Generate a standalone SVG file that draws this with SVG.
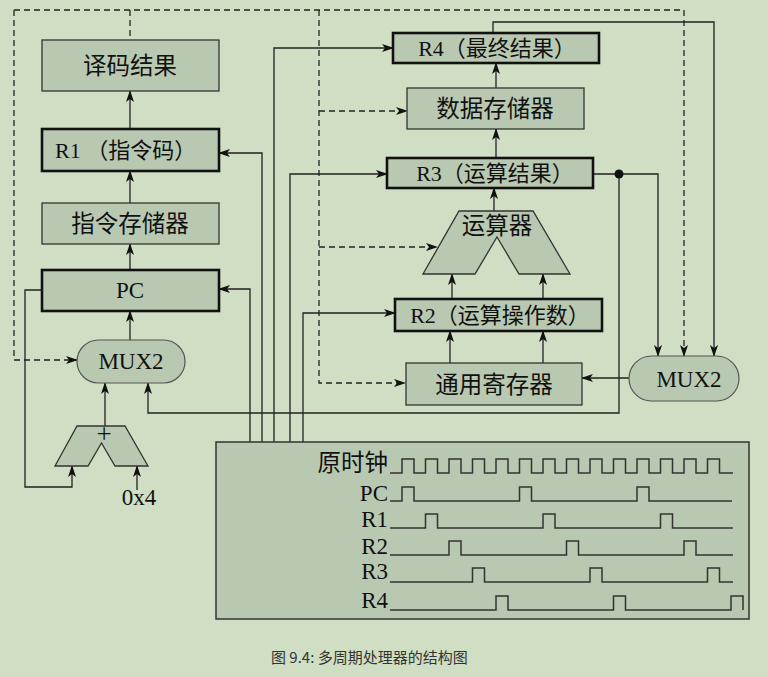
<svg xmlns="http://www.w3.org/2000/svg" width="768" height="677" viewBox="0 0 768 677">
<defs>
<marker id="ah" viewBox="0 0 12 8" refX="11" refY="4" markerWidth="12" markerHeight="8" markerUnits="userSpaceOnUse" orient="auto">
<path d="M0,0 L12,4 L0,8 L3,4 z" fill="#111"/>
</marker>
<style>
.box{fill:#b9c9b1;stroke:#333;stroke-width:1.3}
.tbox{fill:#b9c9b1;stroke:#111;stroke-width:2.6}
.pill{fill:#b9c9b1;stroke:#555;stroke-width:1.2}
.t{font-family:"Liberation Serif","Noto Sans CJK SC",serif;font-size:22px;fill:#111;text-anchor:middle}
.cj{font-size:23.5px}
.tl{font-family:"Liberation Serif","Noto Sans CJK SC",serif;font-size:23px;fill:#111;text-anchor:end}
.c{fill:none;stroke:#222;stroke-width:1.3}
.a{marker-end:url(#ah)}
.d{fill:none;stroke:#222;stroke-width:1.3;stroke-dasharray:6,4}
.w{fill:none;stroke:#333;stroke-width:1.5}
</style>
</defs>
<rect width="768" height="677" fill="#d0dfc4"/>

<g id="connectors">
<path class="c a" d="M130,129 V91"/>
<path class="c a" d="M130,203 V171"/>
<path class="c a" d="M130,270 V244"/>
<path class="c a" d="M130,340 V311"/>
<path class="c a" d="M105,426 V383"/>
<path class="c a" d="M619,174 V413 H148 V383"/>
<path class="c a" d="M593,174 H658 V356"/>
<path class="c a" d="M493,33 V22 H714 V356"/>
<path class="c a" d="M42,290 H25 V487 H72 V466"/>
<path class="c a" d="M137,490 V466"/>
<path class="c a" d="M250,442 V289 H219"/>
<path class="c a" d="M262,442 V153 H219"/>
<path class="c a" d="M274,442 V48 H393"/>
<path class="c a" d="M290,442 V174 H387"/>
<path class="c a" d="M303,442 V313 H395"/>
<path class="c a" d="M452,299 V274"/>
<path class="c a" d="M543,299 V274"/>
<path class="c a" d="M450,363 V331"/>
<path class="c a" d="M543,363 V331"/>
<path class="c a" d="M494,211 V188"/>
<path class="c a" d="M496,158 V129"/>
<path class="c a" d="M496,88 V63"/>
<path class="c a" d="M629,378 H582"/>
<circle cx="619" cy="174" r="4.5" fill="#111"/>
<path class="d a" d="M14,10 H684 V356"/>
<path class="d a" d="M14,10 V360 H77"/>
<path class="d" d="M130,10 V40"/>
<path class="d a" d="M319,10 V383 H405"/>
<path class="d a" d="M319,111 H407"/>
<path class="d a" d="M319,247 H437"/>
</g>

<g id="decode"><rect class="box" x="42" y="40" width="177" height="51"/><text class="t cj" x="130" y="74">译码结果</text></g>
<g id="r1"><rect class="tbox" x="42" y="129" width="177" height="42"/><text class="t" x="55" y="158" style="text-anchor:start">R1 （指令码）</text></g>
<g id="imem"><rect class="box" x="42" y="203" width="177" height="41"/><text class="t cj" x="130" y="232">指令存储器</text></g>
<g id="pc"><rect class="tbox" x="42" y="270" width="177" height="41"/><text class="t" x="130" y="298" style="font-size:23px">PC</text></g>
<g id="mux-left"><rect class="pill" x="77" y="340" width="108" height="43" rx="21.5"/><text class="t" x="131" y="369" style="font-size:23px">MUX2</text></g>
<g id="adder"><polygon class="box" points="77,426 125,426 148,466 115,466 101.5,443 88,466 55,466"/><text class="t" x="104" y="443" style="font-size:27px">+</text></g>
<g id="const4"><text class="t" x="139" y="505" style="font-size:23px">0x4</text></g>

<g id="r4"><rect class="tbox" x="393" y="33" width="206" height="30"/><text class="t" x="497" y="56">R4（最终结果）</text></g>
<g id="dmem"><rect class="box" x="407" y="88" width="177" height="41"/><text class="t cj" x="495" y="117">数据存储器</text></g>
<g id="r3"><rect class="tbox" x="387" y="158" width="206" height="30"/><text class="t" x="495" y="181">R3（运算结果）</text></g>
<g id="alu"><polygon class="box" points="459,211 533,211 570,274 519,274 497,237 475,274 423,274"/><text class="t cj" x="497" y="234">运算器</text></g>
<g id="r2"><rect class="tbox" x="395" y="299" width="207" height="32"/><text class="t" x="500" y="323">R2（运算操作数）</text></g>
<g id="regfile"><rect class="box" x="406" y="363" width="176" height="42"/><text class="t cj" x="494" y="393">通用寄存器</text></g>
<g id="mux-right"><rect class="pill" x="629" y="356" width="110" height="45" rx="22.5"/><text class="t" x="689" y="387" style="font-size:23px">MUX2</text></g>

<g id="timing">
<rect x="216" y="442" width="533" height="177" fill="#b9c9b1" stroke="#333" stroke-width="1.5"/>
<text class="tl" x="388" y="471" style="font-size:23.5px">原时钟</text>
<text class="tl" x="388" y="501">PC</text>
<text class="tl" x="388" y="527">R1</text>
<text class="tl" x="388" y="554">R2</text>
<text class="tl" x="388" y="579">R3</text>
<text class="tl" x="388" y="608">R4</text>
<path class="w" d="M390,473 H402 v-14 h12 v14 H425.5 v-14 h12 v14 H449 v-14 h12 v14 H472.5 v-14 h12 v14 H496 v-14 h12 v14 H519.5 v-14 h12 v14 H543 v-14 h12 v14 H566.5 v-14 h12 v14 H590 v-14 h12 v14 H613.5 v-14 h12 v14 H637 v-14 h12 v14 H660.5 v-14 h12 v14 H684 v-14 h12 v14 H707.5 v-14 h12 v14 H733"/>
<path class="w" d="M390,501 H402 v-14 h12 v14 H519.5 v-14 h12 v14 H637 v-14 h12 v14 H732"/>
<path class="w" d="M390,528 H425.5 v-14 h12 v14 H543 v-14 h12 v14 H660.5 v-14 h12 v14 H733"/>
<path class="w" d="M390,555 H449 v-14 h12 v14 H566.5 v-14 h12 v14 H684 v-14 h12 v14 H733"/>
<path class="w" d="M390,582 H472.5 v-14 h12 v14 H590 v-14 h12 v14 H707.5 v-14 h12 v14 H733"/>
<path class="w" d="M390,610 H496 v-14 h12 v14 H613.5 v-14 h12 v14 H731 v-14 h12 v14"/>
</g>

<text x="271" y="663" style="font-family:'Noto Sans CJK SC','Noto Sans',sans-serif;font-size:15px;fill:#333">图 9.4: 多周期处理器的结构图</text>
</svg>
